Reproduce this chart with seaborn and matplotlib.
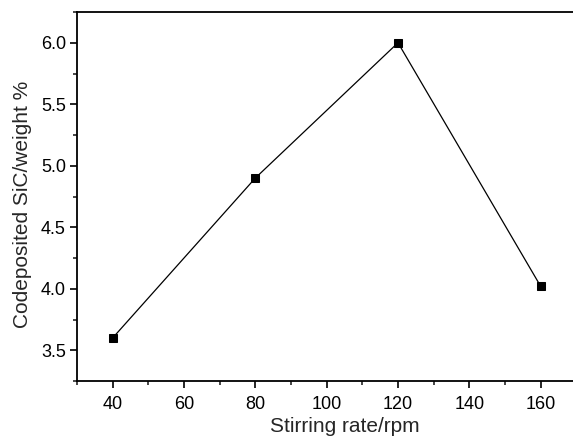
import matplotlib
matplotlib.use("Agg")
import matplotlib.pyplot as plt
import seaborn as sns
import pandas as pd
from matplotlib.ticker import MultipleLocator, FixedLocator

stirring_rate = [40, 80, 120, 160]
sic_weight = [3.6, 4.9, 6.0, 4.02]
x_major_ticks = [40, 60, 80, 100, 120, 140, 160]

df = pd.DataFrame({"rate": stirring_rate, "sic": sic_weight})

sns.set_style("ticks")
plt.rcParams['font.family'] = ['Liberation Sans', 'DejaVu Sans']

fig = plt.figure(figsize=(5.73, 4.37), dpi=100)
ax = fig.add_axes([77/573, 56/437, 535/573, 369/437])

sns.lineplot(data=df, x="rate", y="sic", ax=ax, color="black", linewidth=0.9,
             marker="s", markersize=6, markeredgecolor="black", markerfacecolor="black")

ax.set_xlim(30, 180)
ax.set_ylim(3.25, 6.25)
ax.xaxis.set_major_locator(FixedLocator(x_major_ticks))
ax.xaxis.set_minor_locator(MultipleLocator(10))
ax.yaxis.set_major_locator(MultipleLocator(0.5))
ax.yaxis.set_minor_locator(MultipleLocator(0.25))
ax.yaxis.set_major_formatter(matplotlib.ticker.FormatStrFormatter('%.1f'))

for name, s in ax.spines.items():
    s.set_visible(name != "right")
    s.set_linewidth(1.3)
    s.set_color("black")

ax.tick_params(axis="both", which="major", direction="out", length=5, width=1.2,
               labelsize=13, colors="black", pad=3)
ax.tick_params(axis="x", which="major", pad=6)
ax.tick_params(axis="both", which="minor", direction="out", length=3, width=1.2)
ax.tick_params(top=False, right=False, which="both")

ax.set_xlabel("Stirring rate/rpm", fontsize=15, labelpad=3)
ax.set_ylabel("Codeposited SiC/weight %", fontsize=15, labelpad=6)
ax.yaxis.label.set_y(0.478)

fig.savefig("out.png", dpi=100)
